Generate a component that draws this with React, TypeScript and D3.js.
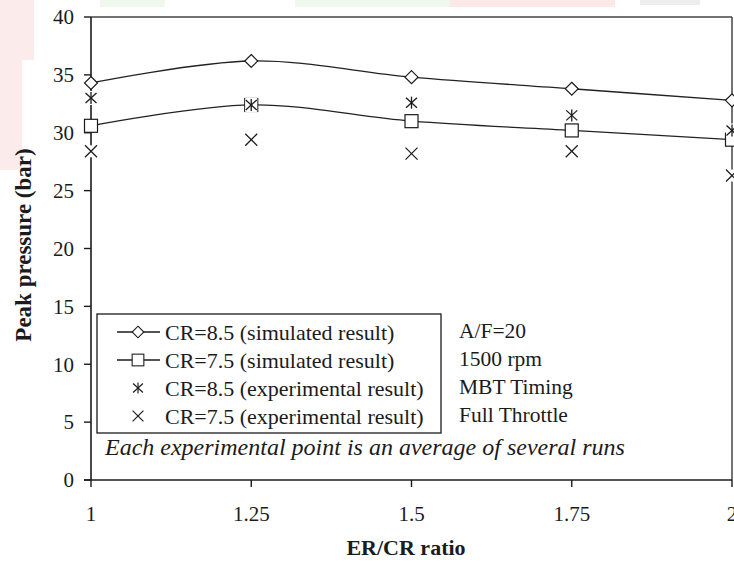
import React from "react";
import { scaleLinear, line, curveCatmullRom } from "d3";

const ratios = [1, 1.25, 1.5, 1.75, 2];
const simCR85 = [34.3, 36.2, 34.8, 33.8, 32.8];
const simCR75 = [30.6, 32.4, 31.0, 30.2, 29.4];
const expCR85 = [33.0, 32.4, 32.6, 31.5, 30.2];
const expCR75 = [28.4, 29.4, 28.2, 28.4, 26.3];

const xTicks = [1, 1.25, 1.5, 1.75, 2];
const xTickLabels = ["1", "1.25", "1.5", "1.75", "2"];
const yTicks = [0, 5, 10, 15, 20, 25, 30, 35, 40];

const legendLabels = [
  "CR=8.5 (simulated result)",
  "CR=7.5 (simulated result)",
  "CR=8.5 (experimental result)",
  "CR=7.5 (experimental result)"
];
const conditions = ["A/F=20", "1500 rpm", "MBT Timing", "Full Throttle"];
const note = "Each  experimental point is an average of several runs";

const W = 734;
const H = 562;
const margins = { top: 17, right: 1, bottom: 82, left: 91 };
const font = "'Liberation Serif', 'Times New Roman', serif";
const ink = "#1b1b1b";

// marker shapes, drawn at (0,0)
const Diamond = () => (
  <path d="M0,-6.5L6.5,0L0,6.5L-6.5,0Z" fill="#fff" stroke={ink} strokeWidth={1.2} />
);
const Square = () => (
  <rect x={-6.5} y={-6.5} width={13} height={13} fill="#fff" stroke={ink} strokeWidth={1.2} />
);
const Star = () => (
  <g stroke={ink} strokeWidth={1.3}>
    <rect x={-6} y={-7} width={12} height={14} fill="#fff" stroke="none" />
    <line x1={0} y1={-6} x2={0} y2={6} />
    <line x1={-5.5} y1={-5} x2={5.5} y2={5} />
    <line x1={-5.5} y1={5} x2={5.5} y2={-5} />
  </g>
);
const Cross = () => (
  <g stroke={ink} strokeWidth={1.3}>
    <rect x={-6} y={-6} width={12} height={12} fill="#fff" stroke="none" />
    <line x1={-6} y1={-6} x2={6} y2={6} />
    <line x1={-6} y1={6} x2={6} y2={-6} />
  </g>
);

export default function App() {
  const xScale = scaleLinear().domain([1, 2]).range([margins.left, W - margins.right - 1]);
  const yScale = scaleLinear().domain([0, 40]).range([H - margins.bottom, margins.top]);

  const curve = line<number>()
    .x((_, i) => xScale(ratios[i]))
    .y(d => yScale(d))
    .curve(curveCatmullRom.alpha(0.5));

  const x0 = xScale(1);
  const x1 = xScale(2);
  const y0 = yScale(0);
  const y1 = yScale(40);

  const legendRows = [332, 360, 388, 416];

  return (
    <svg
      width={W}
      height={H}
      style={{ position: "absolute", left: 0, top: 0, background: "#fff" }}
      fontFamily={font}
    >
      {/* faint watermark remnants */}
      <g opacity={0.5}>
        <path d="M0,0H34V60H22V170H0Z" fill="#fbd9d9" />
        <rect x={100} y={0} width={65} height={7} fill="#e3f3dc" />
        <rect x={295} y={0} width={205} height={7} fill="#e3f3dc" />
        <rect x={450} y={0} width={165} height={7} fill="#fbd2cc" />
        <rect x={640} y={0} width={60} height={5} fill="#ddd" />
      </g>

      {/* frame */}
      <line x1={x0} y1={y1} x2={x1} y2={y1} stroke="#444" strokeWidth={1.5} />
      <line x1={x1} y1={y1} x2={x1} y2={y0} stroke="#444" strokeWidth={1.5} />

      {/* y axis */}
      <line x1={x0} y1={y1} x2={x0} y2={y0} stroke={ink} strokeWidth={1.6} />
      {yTicks.map(t => (
        <g key={t}>
          <line x1={x0 - 7} x2={x0} y1={yScale(t)} y2={yScale(t)} stroke={ink} strokeWidth={1.4} />
          <text x={x0 - 17} y={yScale(t)} dy="0.35em" textAnchor="end" fontSize={21} fill={ink}>
            {t}
          </text>
        </g>
      ))}

      {/* x axis */}
      <line x1={x0 - 7} y1={y0} x2={x1} y2={y0} stroke={ink} strokeWidth={1.6} />
      {xTicks.map((t, i) => (
        <g key={t}>
          <line x1={xScale(t)} x2={xScale(t)} y1={y0} y2={y0 + 7} stroke={ink} strokeWidth={1.4} />
          <text x={xScale(t)} y={514} dy="0.35em" textAnchor="middle" fontSize={21} fill={ink}>
            {xTickLabels[i]}
          </text>
        </g>
      ))}

      <text x={406} y={547} dy="0.35em" textAnchor="middle" fontSize={22} fontWeight="bold" fill={ink}>
        ER/CR ratio
      </text>
      <text
        transform={`translate(23,245) rotate(-90)`}
        dy="0.35em"
        textAnchor="middle"
        fontSize={23}
        fontWeight="bold"
        fill={ink}
      >
        Peak pressure (bar)
      </text>

      {/* simulated curves */}
      <path d={curve(simCR85) || ""} fill="none" stroke="#222" strokeWidth={1.3} />
      <path d={curve(simCR75) || ""} fill="none" stroke="#222" strokeWidth={1.3} />

      {simCR85.map((v, i) => (
        <g key={"d" + i} transform={`translate(${xScale(ratios[i])},${yScale(v)})`}>
          <Diamond />
        </g>
      ))}
      {simCR75.map((v, i) => (
        <g key={"s" + i} transform={`translate(${xScale(ratios[i])},${yScale(v)})`}>
          <Square />
        </g>
      ))}
      {expCR85.map((v, i) => (
        <g key={"a" + i} transform={`translate(${xScale(ratios[i])},${yScale(v)})`}>
          <Star />
        </g>
      ))}
      {expCR75.map((v, i) => (
        <g key={"x" + i} transform={`translate(${xScale(ratios[i])},${yScale(v)})`}>
          <Cross />
        </g>
      ))}

      {/* legend */}
      <rect x={97} y={314} width={344} height={119} fill="#fff" stroke={ink} strokeWidth={1.3} />
      {legendLabels.map((label, i) => (
        <g key={label}>
          {i < 2 && <line x1={117} x2={160} y1={legendRows[i]} y2={legendRows[i]} stroke={ink} strokeWidth={1.3} />}
          <g transform={`translate(138,${legendRows[i]}) scale(0.9)`}>
            {i === 0 ? <Diamond /> : i === 1 ? <Square /> : i === 2 ? <Star /> : <Cross />}
          </g>
          <text x={165} y={legendRows[i]} dy="0.35em" fontSize={22} fill={ink}>
            {label}
          </text>
        </g>
      ))}
      {conditions.map((c, i) => (
        <text key={c} x={459} y={legendRows[i] - 2} dy="0.35em" fontSize={21.5} fill={ink}>
          {c}
        </text>
      ))}
      <text x={105} y={447} dy="0.35em" fontSize={24} fontStyle="italic" fill={ink}>
        {note}
      </text>
    </svg>
  );
}
